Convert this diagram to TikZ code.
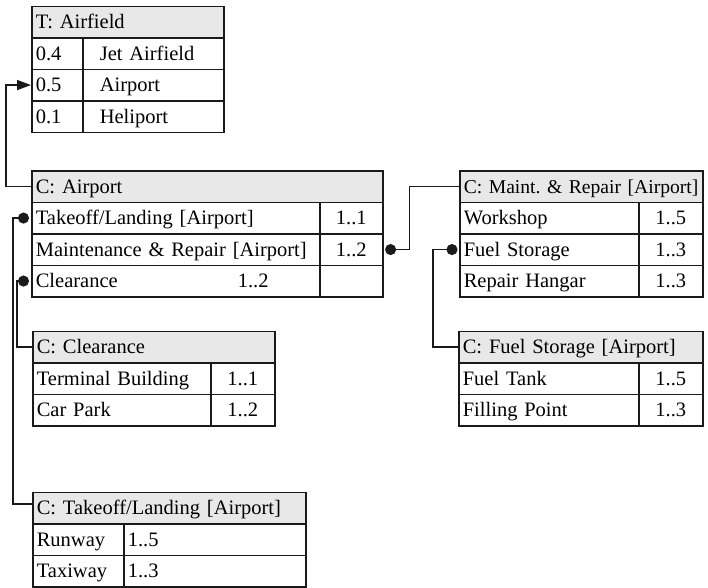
\documentclass[tikz,border=0pt]{standalone}
\usepackage{fontspec}
\setmainfont{Liberation Serif}
\usetikzlibrary{arrows.meta}
\frenchspacing
\newcommand{\tabfont}{\fontsize{20.5}{24}\selectfont}
\newcommand{\tightfont}{\fontsize{19.6}{24}\selectfont}
\definecolor{ink}{HTML}{1A1A1A}
\definecolor{headfill}{HTML}{E8E8E8}
\tikzset{
  cell/.style={draw=ink, line width=1.6pt, anchor=north west, inner xsep=4pt,
    inner ysep=0pt, minimum height=31.5pt, text height=17pt, text depth=4pt,
    font=\tabfont, align=left},
  head/.style={cell, fill=headfill},
  numcell/.style={cell, align=center},
  indented/.style={execute at begin node={\hspace*{13pt}}},
  link/.style={draw=ink, line width=1.6pt},
  dotlink/.style={link, {Circle[length=11pt, width=11pt]}-},
}
\begin{document}
\begin{tikzpicture}[x=1pt, y=-1pt]
\useasboundingbox (0,0) rectangle (708,587);

% T: Airfield
\node[head, text width=184pt] (afh) at (31,5.5) {T: Airfield};
\node[cell, text width=43pt] (af1a) at (31,37) {0.4};
\node[cell, indented, text width=133pt] (af1b) at (82,37) {Jet Airfield};
\node[cell, text width=43pt] (af2a) at (31,68.5) {0.5};
\node[cell, indented, text width=133pt] (af2b) at (82,68.5) {Airport};
\node[cell, text width=43pt] (af3a) at (31,100) {0.1};
\node[cell, indented, text width=133pt] (af3b) at (82,100) {Heliport};

% C: Airport
\node[head, text width=343pt] (aph) at (31,170) {C: Airport};
\node[cell, text width=280pt] (ap1a) at (31,201.5) {Takeoff/Landing [Airport]};
\node[numcell, text width=55pt] (ap1b) at (319,201.5) {1..1};
\node[cell, text width=280pt] (ap2a) at (31,233) {Maintenance \& Repair [Airport]};
\node[numcell, text width=55pt] (ap2b) at (319,233) {1..2};
\node[cell, text width=280pt] (ap3a) at (31,264.5) {\makebox[202pt][l]{Clearance}1..2};
\node[numcell, text width=55pt] (ap3b) at (319,264.5) {};

% C: Maint. & Repair
\node[head, text width=235pt, font=\tightfont] (mrh) at (459,170) {\mbox{C: Maint. \& Repair [Airport]}};
\node[cell, text width=171pt] (mr1a) at (459,201.5) {Workshop};
\node[numcell, text width=56pt] (mr1b) at (638,201.5) {1..5};
\node[cell, text width=171pt] (mr2a) at (459,233) {Fuel Storage};
\node[numcell, text width=56pt] (mr2b) at (638,233) {1..3};
\node[cell, text width=171pt] (mr3a) at (459,264.5) {Repair Hangar};
\node[numcell, text width=56pt] (mr3b) at (638,264.5) {1..3};

% C: Fuel Storage
\node[head, text width=236pt] (fsh) at (458,330.5) {\mbox{C: Fuel Storage [Airport]}};
\node[cell, text width=172pt] (fs1a) at (458,362) {Fuel Tank};
\node[numcell, text width=56pt] (fs1b) at (638,362) {1..5};
\node[cell, text width=172pt] (fs2a) at (458,393.5) {Filling Point};
\node[numcell, text width=56pt] (fs2b) at (638,393.5) {1..3};

% C: Clearance
\node[head, text width=234pt] (clh) at (32,330.5) {C: Clearance};
\node[cell, text width=170pt] (cl1a) at (32,362) {Terminal Building};
\node[numcell, text width=56pt] (cl1b) at (210,362) {1..1};
\node[cell, text width=170pt] (cl2a) at (32,393.5) {Car Park};
\node[numcell, text width=56pt] (cl2b) at (210,393.5) {1..2};

% C: Takeoff/Landing
\node[head, text width=265pt] (tlh) at (32,491.5) {C: Takeoff/Landing [Airport]};
\node[cell, text width=83pt] (tl1a) at (32,523) {Runway};
\node[cell, text width=174pt] (tl1b) at (123,523) {1..5};
\node[cell, text width=83pt] (tl2a) at (32,554.5) {Taxiway};
\node[cell, text width=174pt] (tl2b) at (123,554.5) {1..3};

% connectors
\draw[link, -{Triangle[length=14pt, width=10pt]}]
  (aph.west) -- ++(-25,0) |- (af2a.west);
\draw[dotlink] ([xshift=-2pt]ap1a.west) -- ++(-16,0) |- ([yshift=4pt]tlh.west);
\draw[dotlink] ([xshift=-2pt]ap3a.west) -- ++(-12,0) |- (clh.west);
\draw[dotlink] ([xshift=1.5pt]ap2b.east) -- ++(24.5,0) |- (mrh.west);
\draw[dotlink] ([xshift=-1.5pt]mr2a.west) -- ++(-24.5,0) |- (fsh.west);
\end{tikzpicture}
\end{document}
